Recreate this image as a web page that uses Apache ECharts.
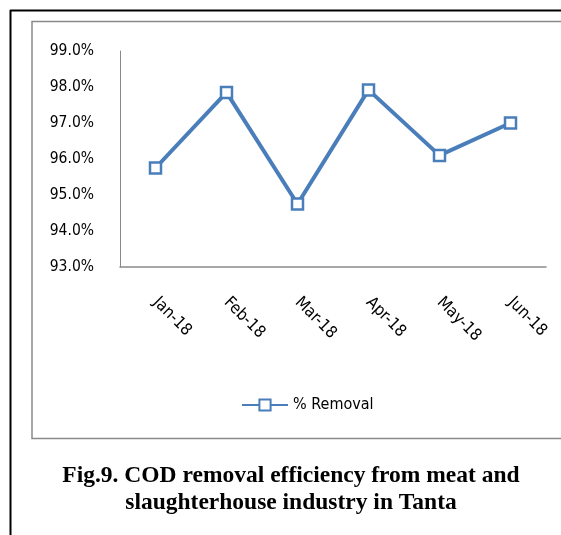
<!DOCTYPE html>
<html><head><meta charset="utf-8">
<script src="https://cdn.jsdelivr.net/npm/echarts@6/dist/echarts.min.js"></script>
<style>html,body{margin:0;padding:0;background:#fff}#c{width:561px;height:535px}</style>
</head><body><div id="c"></div>
<script>
const categories = ['Jan-18','Feb-18','Mar-18','Apr-18','May-18','Jun-18'];
const removal = [95.75, 97.85, 94.75, 97.92, 96.1, 97.0];
const yTicks = [93, 94, 95, 96, 97, 98, 99];
const seriesName = '% Removal';
const caption = ['Fig.9. COD removal efficiency from meat and', 'slaughterhouse industry in Tanta'];

const chart = echarts.init(document.getElementById('c'), null, {renderer:'canvas'});
const narrow = '"Liberation Sans Narrow","DejaVu Sans Condensed","Liberation Sans",sans-serif';
chart.setOption({
  animation:false,
  backgroundColor:'#fff',
  graphic:[
    {type:'line', shape:{x1:10.5,y1:10,x2:10.5,y2:535}, style:{stroke:'#000',lineWidth:2}},
    {type:'line', shape:{x1:10,y1:10.5,x2:561,y2:10.5}, style:{stroke:'#000',lineWidth:2}},
    {type:'rect', shape:{x:32,y:21.5,width:560,height:417}, style:{fill:'none',stroke:'#8a8a8a',lineWidth:1.5}},
    {type:'text', x:291, y:462, style:{text:caption.join('\n'), font:'bold 23.5px "Liberation Serif","Times New Roman",serif', fill:'#000', align:'center', textAlign:'center', lineHeight:27}}
  ],
  grid:{left:120, top:51, width:426, height:216, containLabel:false},
  legend:{
    data:[seriesName],
    left:236, top:392, itemWidth:46, itemHeight:14, itemGap:3,
    textStyle:{fontFamily:narrow, fontSize:16, color:'#000'}
  },
  xAxis:{
    type:'category', data:categories, boundaryGap:true,
    axisLine:{lineStyle:{color:'#8a8a8a',width:1.5}},
    axisTick:{show:false},
    axisLabel:{rotate:-45, margin:33, fontFamily:narrow, fontSize:16.5, color:'#000'}
  },
  yAxis:{
    type:'value', min:93, max:99, interval:1,
    axisLine:{show:true, lineStyle:{color:'#8a8a8a',width:1}},
    axisTick:{show:false},
    splitLine:{show:false},
    axisLabel:{margin:26, fontFamily:narrow, fontSize:15.5, color:'#000', formatter:v=>v.toFixed(1)+'%'}
  },
  series:[{
    name:seriesName, type:'line', data:removal,
    symbol:'rect', symbolSize:11,
    lineStyle:{color:'#4a7ebb', width:4},
    itemStyle:{color:'#fff', borderColor:'#4a7ebb', borderWidth:2.5}
  }]
});
</script></body></html>
